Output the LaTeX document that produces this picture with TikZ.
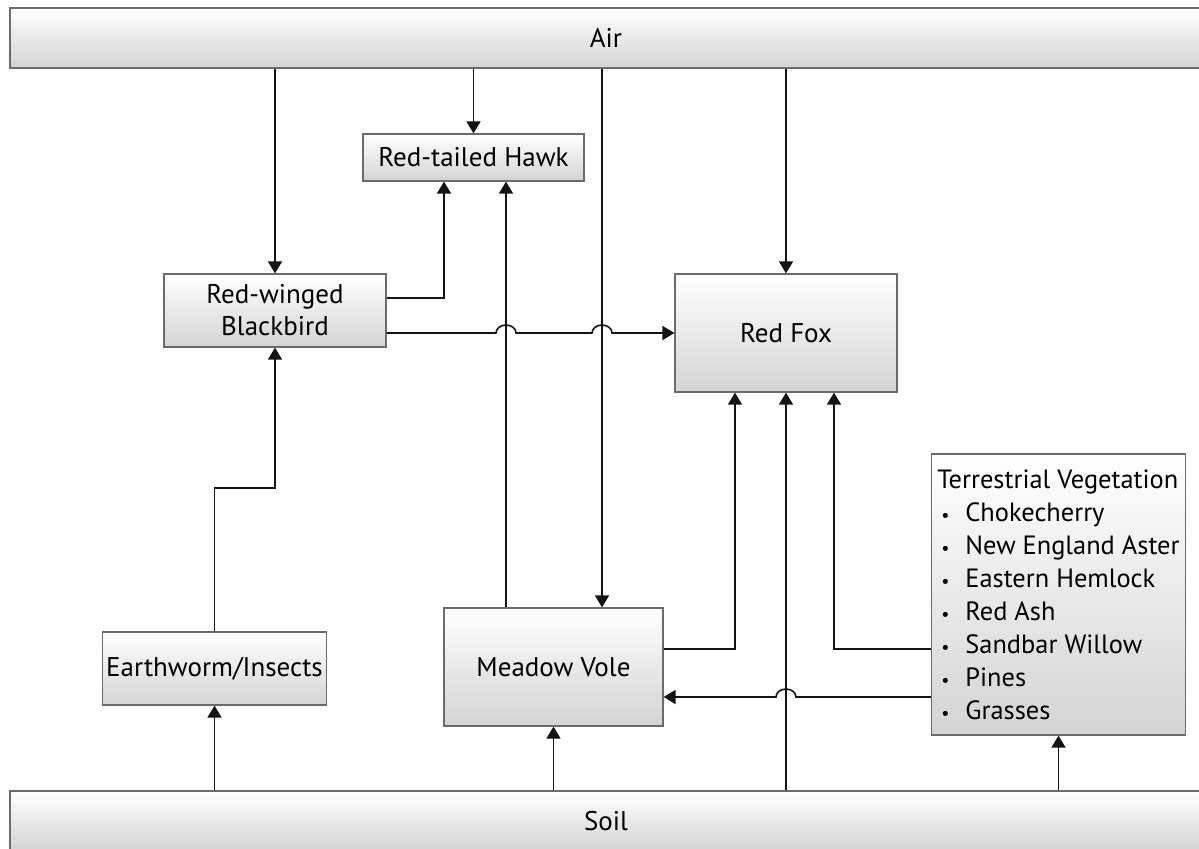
\documentclass[tikz,border=0pt]{standalone}
\usepackage{fontspec}
\setmainfont{PT Sans}
\usetikzlibrary{arrows.meta,positioning}
\definecolor{ink}{gray}{0.08}
\definecolor{frame}{gray}{0.42}
\newcommand{\vitem}[1]{\makebox[14pt][l]{\hspace{2pt}\small•}#1}

\begin{document}
\begin{tikzpicture}[x=0.5pt,y=-0.5pt,line width=0.8pt,
  box/.style={draw=frame,line width=0.6pt,top color=white,middle color=white,
    bottom color=black!17,inner sep=2pt,align=center,
    font=\fontsize{13.5}{16}\selectfont},
  link/.style={ink,-{Triangle[length=6pt,width=7pt]}}]
  \clip (0,0) rectangle (1199,848);
  % bands
  \node[box,minimum width=596pt,minimum height=30pt] (air) at (606,38) {Air};
  \node[box,minimum width=596pt,minimum height=30pt] (soil) at (606,821) {Soil};
  % species
  \node[box,minimum width=110.5pt,minimum height=23.5pt] (hawk) at (473.5,157.5) {Red-tailed Hawk};
  \node[box,minimum width=111pt,minimum height=36.5pt] (bird) at (275,310.5) {Red-winged\\Blackbird};
  \node[box,minimum width=111pt,minimum height=59pt] (fox) at (786,333) {Red Fox};
  \node[box,minimum width=110.5pt,minimum height=36.5pt] (worm) at (214.5,668.5) {Earthworm/Insects};
  \node[box,minimum width=109.5pt,minimum height=59pt] (vole) at (553.5,667) {Meadow Vole};
  \node[box,minimum width=127pt,minimum height=140.5pt,align=left,
    font=\fontsize{13.2}{16.5}\selectfont] (veg) at (1058.5,594.5)
    {Terrestrial Vegetation\\\vitem{Chokecherry}\\\vitem{New England Aster}\\
     \vitem{Eastern Hemlock}\\\vitem{Red Ash}\\\vitem{Sandbar Willow}\\
     \vitem{Pines}\\\vitem{Grasses}};
  % corners and crossings
  \coordinate (kb) at (444,298);
  \coordinate (kw) at (214.5,488);
  \coordinate (kv) at (735,649);
  \coordinate (kg) at (834,649);
  \coordinate (hv) at (506,333);
  \coordinate (ha) at (602,333);
  \coordinate (hf) at (786,697);
  % from the air
  \draw[link] (air.south -| bird.north) -- (bird.north);
  \draw[link] (air.south -| hawk.north) -- (hawk.north);
  \draw[link] (air.south -| ha) -- (ha |- vole.north);
  \draw[link] (air.south -| fox.north) -- (fox.north);
  % from the soil
  \draw[link] (soil.north -| worm.south) -- (worm.south);
  \draw[link] (soil.north -| vole.south) -- (vole.south);
  \draw[link] (soil.north -| fox.south) -- (fox.south);
  \draw[link] (soil.north -| veg.south) -- (veg.south);
  % feeding links
  \draw[link] (worm.north) -- (kw) -- (kw -| bird.south) -- (bird.south);
  \draw[link] (bird.east |- kb) -- (kb) -- (kb |- hawk.south);
  \draw[link] (vole.north -| hv) -- (hv |- hawk.south);
  \draw[link] (vole.east |- kv) -- (kv) -- (kv |- fox.south);
  \draw[link] (veg.west |- kg) -- (kg) -- (kg |- fox.south);
  % links with hops
  \draw[link] (bird.east |- hv) -- ([xshift=-5pt]hv)
    arc[start angle=180,end angle=0,x radius=5pt,y radius=4pt] -- ([xshift=-5pt]ha)
    arc[start angle=180,end angle=0,x radius=5pt,y radius=4pt] -- (fox.west);
  \draw[link] (veg.west |- hf) -- ([xshift=5pt]hf)
    arc[start angle=0,end angle=180,x radius=5pt,y radius=4pt] -- (vole.east |- hf);
\end{tikzpicture}
\end{document}
